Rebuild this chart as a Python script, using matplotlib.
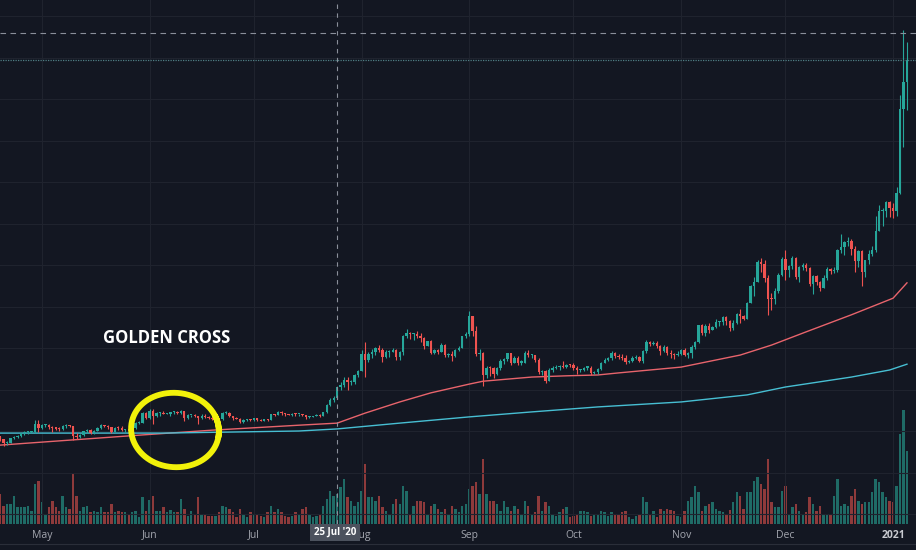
import numpy as np
import pandas as pd
import matplotlib
matplotlib.use("Agg")
import matplotlib.pyplot as plt
import matplotlib.dates as mdates
from matplotlib.transforms import IdentityTransform

# daily candles, 19 Apr 2020 .. 5 Jan 2021 (one line per month)
start_date = "2020-04-19"
first_open = 187
close = [
    180, 171, 171, 182, 185, 188, 194, 197, 197, 197, 216, 207,
    214, 215, 210, 207, 206, 204, 212, 213, 211, 188, 186, 190, 199, 203, 194, 200, 207, 214, 213, 209, 198, 208, 207, 202, 204, 201, 208, 220, 220, 244, 231,
    248, 237, 244, 244, 241, 242, 245, 245, 243, 247, 231, 238, 238, 235, 231, 236, 234, 232, 228, 229, 228, 243, 244, 235, 232, 230, 222, 226, 229, 226,
    231, 226, 225, 229, 227, 241, 239, 246, 243, 241, 239, 242, 240, 241, 238, 233, 233, 236, 239, 236, 245, 262, 275, 279, 305, 311, 322, 317, 318, 335, 345,
    386, 370, 386, 390, 401, 395, 379, 391, 391, 395, 379, 390, 428, 437, 433, 433, 429, 423, 406, 416, 389, 395, 391, 408, 382, 386, 381, 395, 400, 428, 434,
    477, 440, 385, 388, 335, 353, 352, 337, 351, 368, 374, 387, 365, 377, 365, 365, 389, 384, 384, 371, 341, 344, 321, 348, 351, 354, 357, 354, 360, 359,
    353, 346, 346, 353, 353, 340, 341, 350, 365, 370, 375, 387, 381, 379, 377, 366, 368, 377, 379, 369, 392, 414, 409, 412, 405, 393, 403, 388, 386, 382, 386,
    396, 384, 388, 403, 414, 455, 436, 453, 444, 450, 462, 462, 475, 465, 448, 461, 481, 478, 471, 509, 549, 560, 608, 603, 569, 518, 517, 538, 575, 614,
    587, 598, 616, 570, 596, 601, 592, 554, 573, 560, 545, 568, 590, 586, 589, 636, 643, 655, 659, 638, 609, 634, 584, 611, 626, 635, 683, 731, 731, 751, 737,
    730, 774, 976, 1041, 1094,
]
high = [
    188, 181, 176, 183, 189, 190, 195, 199, 201, 199, 227, 227,
    218, 216, 217, 211, 210, 209, 214, 216, 215, 212, 195, 192, 201, 206, 205, 202, 209, 216, 215, 215, 210, 209, 211, 211, 206, 206, 210, 222, 225, 246, 245,
    253, 253, 245, 246, 247, 244, 246, 248, 247, 250, 248, 240, 239, 240, 236, 241, 240, 236, 234, 231, 232, 245, 247, 245, 236, 233, 231, 229, 230, 230,
    232, 232, 228, 230, 230, 242, 242, 248, 247, 244, 242, 243, 244, 242, 242, 239, 235, 237, 240, 240, 246, 264, 279, 284, 305, 317, 329, 330, 322, 337, 347,
    396, 415, 390, 397, 402, 407, 399, 396, 396, 400, 397, 392, 432, 445, 438, 436, 442, 436, 427, 418, 419, 398, 398, 411, 409, 389, 393, 397, 405, 429, 438,
    488, 478, 452, 397, 391, 357, 357, 355, 355, 373, 376, 388, 389, 381, 381, 370, 393, 394, 386, 384, 375, 348, 346, 351, 356, 358, 359, 368, 361, 362,
    365, 356, 350, 354, 356, 356, 344, 352, 367, 375, 378, 392, 390, 385, 385, 383, 371, 380, 384, 380, 395, 419, 418, 416, 416, 407, 408, 405, 395, 389, 393,
    397, 399, 390, 407, 418, 456, 458, 458, 460, 454, 470, 465, 478, 476, 467, 468, 485, 494, 480, 511, 553, 570, 612, 617, 611, 575, 532, 544, 580, 620,
    637, 600, 621, 620, 598, 605, 605, 595, 577, 575, 562, 575, 595, 593, 595, 639, 675, 659, 667, 662, 645, 636, 637, 613, 635, 645, 718, 745, 738, 755, 755,
    749, 788, 1010, 1166, 1137,
]
low = [
    176, 165, 167, 170, 180, 182, 186, 191, 193, 194, 195, 198,
    205, 209, 206, 198, 203, 200, 202, 208, 209, 178, 180, 184, 188, 196, 192, 193, 199, 206, 210, 204, 196, 198, 202, 200, 198, 200, 200, 206, 217, 219, 230,
    230, 216, 233, 236, 240, 240, 237, 242, 240, 241, 225, 229, 234, 234, 218, 230, 232, 230, 226, 225, 226, 226, 240, 233, 227, 228, 219, 220, 224, 224,
    224, 224, 223, 224, 225, 227, 237, 238, 239, 235, 238, 236, 237, 236, 236, 230, 231, 233, 235, 234, 235, 244, 261, 270, 277, 300, 306, 300, 310, 313, 331,
    344, 330, 366, 375, 383, 391, 367, 375, 379, 390, 372, 372, 383, 424, 421, 420, 425, 415, 398, 404, 386, 385, 385, 391, 378, 378, 369, 378, 393, 399, 423,
    428, 430, 380, 371, 308, 327, 333, 327, 335, 348, 361, 369, 360, 364, 360, 359, 364, 378, 376, 366, 337, 335, 316, 320, 342, 349, 348, 351, 352, 354,
    348, 337, 343, 344, 347, 336, 337, 337, 347, 363, 368, 370, 376, 373, 371, 362, 363, 367, 374, 366, 365, 388, 404, 407, 401, 382, 391, 382, 377, 373, 380,
    383, 380, 375, 377, 398, 411, 431, 430, 437, 443, 448, 452, 455, 456, 440, 443, 458, 460, 467, 470, 508, 525, 558, 583, 560, 480, 492, 505, 533, 574,
    565, 570, 590, 567, 560, 589, 585, 549, 530, 552, 537, 545, 563, 579, 580, 584, 630, 625, 647, 625, 583, 595, 550, 572, 603, 621, 632, 682, 693, 715, 716,
    714, 717, 772, 884, 973,
]
volume = [
    30, 18, 20, 20, 28, 17, 17, 17, 18, 13, 40, 43,
    22, 10, 17, 23, 17, 13, 28, 17, 15, 50, 28, 13, 17, 18, 12, 13, 12, 17, 12, 12, 20, 12, 13, 12, 12, 10, 12, 13, 7, 27, 13,
    24, 28, 13, 13, 17, 12, 14, 12, 12, 25, 15, 8, 13, 10, 27, 10, 10, 8, 8, 8, 12, 18, 17, 15, 12, 7, 15, 10, 7, 12,
    10, 10, 8, 7, 12, 18, 12, 15, 12, 8, 7, 8, 12, 10, 15, 17, 10, 7, 8, 10, 18, 25, 33, 28, 30, 37, 45, 27, 23, 18, 22,
    33, 60, 27, 27, 23, 28, 17, 13, 10, 20, 25, 20, 38, 33, 10, 18, 23, 23, 22, 10, 18, 20, 15, 12, 15, 10, 18, 15, 12, 18, 20,
    35, 38, 42, 30, 65, 30, 23, 23, 20, 13, 23, 17, 13, 18, 15, 10, 23, 18, 10, 12, 28, 13, 22, 18, 10, 8, 12, 15, 17, 7,
    8, 10, 13, 13, 12, 8, 10, 10, 13, 12, 8, 12, 10, 10, 12, 13, 7, 5, 8, 10, 27, 22, 10, 13, 7, 15, 13, 15, 14, 13, 8,
    7, 13, 23, 27, 38, 32, 13, 18, 20, 22, 15, 13, 12, 10, 14, 22, 32, 28, 15, 32, 32, 43, 47, 40, 35, 65, 22, 17, 17, 33,
    38, 10, 17, 20, 13, 10, 12, 27, 20, 13, 18, 10, 10, 10, 28, 45, 18, 20, 18, 28, 35, 23, 20, 22, 22, 32, 45, 42, 32, 27, 23,
    22, 38, 90, 114, 73,
]

# moving averages
ma_fast_dates = ["2020-04-19", "2020-05-29", "2020-06-19", "2020-07-14", "2020-07-25", "2020-08-02",
                 "2020-08-12", "2020-08-21", "2020-09-01", "2020-09-05", "2020-09-19", "2020-09-29",
                 "2020-10-08", "2020-10-14", "2020-11-01", "2020-11-18", "2020-11-27",
                 "2020-12-07", "2020-12-20", "2021-01-01", "2021-01-05"]
ma_fast = [166, 190, 202, 214, 219, 243, 270, 292, 313, 320, 330, 333, 335, 340, 354, 383, 407,
           439, 480, 520, 557]
ma_slow_dates = ["2020-04-19", "2020-06-05", "2020-07-14", "2020-07-25", "2020-08-12", "2020-09-01",
                 "2020-09-19", "2020-10-08", "2020-11-01", "2020-11-20", "2020-12-01", "2020-12-20",
                 "2020-12-31", "2021-01-05"]
ma_slow = [195, 195, 200, 205, 219, 234, 246, 258, 270, 287, 306, 330, 347, 361]

month_labels = ["May", "Jun", "Jul", "Aug", "Sep", "Oct", "Nov", "Dec", "2021"]
cursor_date = "2020-07-25"
cursor_label = "25 Jul '20"
cursor_price = 1159

bg = "#131722"
up_c, down_c = "#26a69a", "#ef5350"
vol_up, vol_down = "#1f6b66", "#8e3a3b"

close = np.array(close, float)
high = np.array(high, float)
low = np.array(low, float)
opn = np.r_[first_open, close[:-1]]
high = np.maximum(high, np.maximum(opn, close))
low = np.minimum(low, np.minimum(opn, close))
dates = pd.date_range(start_date, periods=len(close), freq="D")
x = mdates.date2num(dates)
up = close >= opn

fig = plt.figure(figsize=(9.16, 5.5), dpi=100, facecolor=bg)
ax = fig.add_axes([0, 26 / 550, 1, 524 / 550])
ax2 = ax.twinx()
ax.set_zorder(ax2.get_zorder() + 1)
ax.patch.set_visible(False)
ax2.patch.set_facecolor(bg)

# volume overlay
ax2.bar(x, volume, width=0.7, color=np.where(up, vol_up, vol_down), linewidth=0)
ax2.set_ylim(0, 524)
ax2.set_yticks([])
for s in ax2.spines.values():
    s.set_visible(False)

# candles
cols = np.where(up, up_c, down_c)
ax.vlines(x, low, high, colors=cols, linewidth=0.8, zorder=3)
body = np.maximum(np.abs(close - opn), 2.5)
ax.bar(x, body, bottom=np.minimum(opn, close), width=0.68, color=cols, linewidth=0, zorder=4)

ax.plot(mdates.date2num(pd.to_datetime(ma_fast_dates)), ma_fast, color="#e8646c", lw=1.0, zorder=2)
ax.plot(mdates.date2num(pd.to_datetime(ma_slow_dates)), ma_slow, color="#47bfd3", lw=1.0, zorder=2)

x0 = x[0]
ax.set_xlim(x0 - 0.05, x0 + 263.6)
ax.set_ylim(-24.1, 1238.6)

months = pd.date_range("2020-05-01", periods=len(month_labels), freq="MS")
ax.set_xticks(mdates.date2num(months))
ax.set_xticklabels(month_labels)
ax.set_yticks(np.arange(0, 1300, 100))
ax.tick_params(axis="y", length=0, labelleft=False)
ax.tick_params(axis="x", length=0, pad=4, labelsize=7.5, labelcolor="#a3a6af")
for t in ax.get_xticklabels():
    t.set_fontfamily("Open Sans")
    if t.get_text() == "2021":
        t.set_fontweight("bold")
        t.set_color("#c8cad0")
ax.grid(True, color="#1f232e", lw=0.8, zorder=0)
for s in ax.spines.values():
    s.set_visible(False)

# crosshair and last price line
ax.axvline(mdates.date2num(pd.Timestamp(cursor_date)), color="#8a8f9a", lw=0.8, ls=(0, (4, 4)), zorder=5)
ax.axhline(cursor_price, color="#8a8f9a", lw=0.8, ls=(0, (5, 4)), zorder=5)
ax.axhline(close[-1], color="#4f7f85", lw=0.9, ls=(0, (1, 1)), zorder=5)

fig.add_artist(plt.Line2D([0, 1], [6 / 550, 6 / 550], color="#2a2e39", lw=0.8))
fig.text(335 / 916, 1 - 532.5 / 550, cursor_label, ha="center", va="center", fontsize=7,
         fontweight="bold", color="white", family="Open Sans",
         bbox=dict(boxstyle="square,pad=0.35", fc="#4c525e", ec="none"), zorder=10)

# annotation
fig.text(167 / 916, 1 - 338 / 550, "GOLDEN CROSS", ha="center", va="center", fontsize=12,
         fontweight="bold", color="white", family="Open Sans")
t = np.linspace(0.3, 2 * np.pi + 0.8, 300)
r = 1 + 0.06 * np.sin(2 * t + 0.5)
ex = 42 * r * np.cos(t)
ey = 39 * r * np.sin(t)
ang = np.deg2rad(-25)
px = 175 + ex * np.cos(ang) - ey * np.sin(ang)
py = 120 + ex * np.sin(ang) + ey * np.cos(ang)
fig.add_artist(plt.Line2D(px, py, color="#f2f20a", lw=4.2, solid_capstyle="round",
                          transform=IdentityTransform()))

fig.savefig("out.png", dpi=100, facecolor=bg)
